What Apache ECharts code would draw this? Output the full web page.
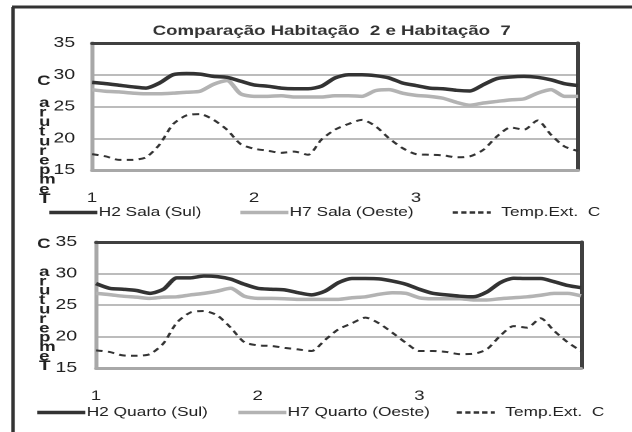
<!DOCTYPE html>
<html>
<head>
<meta charset="utf-8">
<script src="https://cdn.jsdelivr.net/npm/echarts@6/dist/echarts.min.js"></script>
<style>
html,body{margin:0;padding:0;background:#fff;overflow:hidden;}
#wrap{width:632px;height:432px;overflow:hidden;}
/* the reference picture is horizontally stretched; reproduce that by stretching the chart */
#c{width:475.19px;height:432px;transform:scaleX(1.33);transform-origin:0 0;}
</style>
</head>
<body>
<div id="wrap"><div id="c"></div></div>
<script>
const title = 'Comparação Habitação  2 e Habitação  7';
const dayLabels = ['1', '2', '3'];
const pointsPerDay = 12;
const yTicks = [15, 20, 25, 30, 35];
const yTitleTop = 'C';
const yTitleRest = 'aruturepmeT';

const h2Sala = [28.8, 28.6, 28.35, 28.1, 27.9, 28.7, 30.0, 30.2, 30.1, 29.75, 29.6, 29.0, 28.4, 28.2, 27.9, 27.8, 27.8, 28.2, 29.5, 30.0, 30.0, 29.85, 29.5, 28.7, 28.3, 27.9, 27.8, 27.55, 27.45, 28.45, 29.4, 29.65, 29.75, 29.6, 29.2, 28.6, 28.3];
const h7Sala = [27.65, 27.4, 27.3, 27.1, 27.0, 27.0, 27.1, 27.25, 27.4, 28.5, 29.1, 27.0, 26.6, 26.6, 26.7, 26.5, 26.5, 26.5, 26.7, 26.7, 26.6, 27.5, 27.65, 27.1, 26.75, 26.6, 26.3, 25.65, 25.2, 25.55, 25.8, 26.05, 26.2, 27.1, 27.65, 26.6, 26.6];
const tempExtTop = [17.5, 17.15, 16.6, 16.6, 17.0, 19.0, 22.2, 23.6, 23.8, 22.9, 21.35, 19.1, 18.35, 18.05, 17.7, 17.9, 17.4, 19.8, 21.35, 22.25, 22.9, 21.9, 20.0, 18.45, 17.5, 17.4, 17.3, 17.0, 17.15, 18.2, 20.3, 21.7, 21.35, 22.8, 20.55, 18.7, 18.0];

const h2Quarto = [28.4, 27.65, 27.5, 27.3, 26.85, 27.5, 29.3, 29.3, 29.6, 29.5, 29.1, 28.3, 27.65, 27.5, 27.4, 26.95, 26.6, 27.2, 28.55, 29.2, 29.2, 29.15, 28.8, 28.3, 27.5, 26.85, 26.6, 26.4, 26.3, 27.05, 28.55, 29.25, 29.2, 29.2, 28.7, 28.1, 27.75];
const h7Quarto = [26.85, 26.65, 26.4, 26.25, 26.05, 26.25, 26.3, 26.6, 26.85, 27.2, 27.65, 26.4, 26.05, 26.05, 26.0, 25.9, 25.9, 25.9, 25.9, 26.15, 26.3, 26.7, 26.95, 26.85, 26.15, 26.0, 26.0, 26.0, 25.8, 25.8, 26.0, 26.15, 26.3, 26.55, 26.85, 26.85, 26.45];
const tempExtBottom = [17.8, 17.55, 17.0, 16.95, 17.2, 18.9, 22.2, 23.8, 24.05, 23.35, 21.4, 19.1, 18.6, 18.5, 18.2, 17.95, 17.7, 19.45, 21.15, 22.1, 23.0, 22.1, 20.6, 19.0, 17.7, 17.7, 17.55, 17.2, 17.25, 17.95, 20.1, 21.65, 21.4, 22.9, 20.9, 19.1, 17.7];

const names = {
  h2Sala: 'H2 Sala (Sul)', h7Sala: 'H7 Sala (Oeste)',
  h2Quarto: 'H2 Quarto (Sul)', h7Quarto: 'H7 Quarto (Oeste)',
  temp: 'Temp.Ext.  C'
};

const categories = h2Sala.map((_, i) =>
  (i % pointsPerDay === 0 && i / pointsPerDay < dayLabels.length) ? dayLabels[i / pointsPerDay] : '');

const S = 1.33; // horizontal stretch of the page
const X = v => v / S;
const FONT = 'Liberation Sans, Arial, sans-serif';
const DARK = '#333333';
const GRAY = '#b3b3b3';

const grids = [
  {left: X(92), top: 43, width: X(486), height: 127},
  {left: X(96), top: 242, width: X(485), height: 126}
];

function xAxes(gi) {
  return [
    {type: 'category', gridIndex: gi, data: categories, boundaryGap: false,
     axisLine: {show: true, lineStyle: {color: '#a8a8a8', width: 3}},
     axisTick: {show: false},
     axisLabel: {interval: 0, margin: 21, color: '#222', fontFamily: FONT, fontSize: 14},
     splitLine: {show: false}},
    {type: 'category', gridIndex: gi, data: categories, boundaryGap: false, position: 'top',
     axisLine: {show: true, lineStyle: {color: '#404040', width: 3}},
     axisTick: {show: false}, axisLabel: {show: false}, splitLine: {show: false}}
  ];
}
function yAxes(gi) {
  return [
    {type: 'value', gridIndex: gi, min: yTicks[0], max: yTicks[yTicks.length - 1], interval: 5,
     axisLine: {show: true, lineStyle: {color: '#a8a8a8', width: 3}},
     axisTick: {show: false},
     axisLabel: {margin: X(gi ? 19 : 17), color: '#222', fontFamily: FONT, fontSize: 14.5},
     splitLine: {show: true, lineStyle: {color: '#bcbcbc', width: 2}}},
    {type: 'value', gridIndex: gi, min: yTicks[0], max: yTicks[yTicks.length - 1], interval: 5, position: 'right',
     axisLine: {show: true, lineStyle: {color: '#404040', width: 3}},
     axisTick: {show: false}, axisLabel: {show: false}, splitLine: {show: false}}
  ];
}

function lineSeries(name, data, gi, color, width, type) {
  return {
    type: 'line', name: name, data: data,
    xAxisIndex: gi * 2, yAxisIndex: gi * 2,
    showSymbol: false, symbol: 'none', smooth: 0.25,
    lineStyle: {color: color, width: width, type: type},
    itemStyle: {color: color},
    animation: false
  };
}

function legend(name, left, top, kind) {
  const dashed = kind === 'dash';
  return {
    data: [name], left: X(left), top: top, itemWidth: X(dashed ? 38 : 48), itemHeight: 10, itemGap: 0,
    padding: 0,
    itemStyle: {color: 'transparent', borderWidth: 0, opacity: 0},
    lineStyle: {width: dashed ? 2.5 : 3.5, color: kind === 'gray' ? GRAY : DARK, type: dashed ? [4, 2.4] : 'solid'},
    textStyle: {color: '#222', fontFamily: FONT, fontSize: 13, padding: [0, 0, 0, dashed ? 3 : -4]},
    selectedMode: false
  };
}

function stackText(left, top, str, lh) {
  return {type: 'text', left: X(left), top: top,
    style: {text: str.split('').join('\n'), font: 'bold 14px ' + FONT, fill: '#222', lineHeight: lh, align: 'center'}};
}

const option = {
  backgroundColor: '#fff',
  animation: false,
  title: {text: title, left: X(146), top: 19,
    textStyle: {fontFamily: FONT, fontSize: 14, fontWeight: 'bold', color: '#333'}},
  grid: grids,
  xAxis: [...xAxes(0), ...xAxes(1)],
  yAxis: [...yAxes(0), ...yAxes(1)],
  legend: [
    legend(names.h2Sala, 47, 206, 'dark'),
    legend(names.h7Sala, 238, 206, 'gray'),
    legend(names.temp, 451, 206, 'dash'),
    legend(names.h2Quarto, 35, 406, 'dark'),
    legend(names.h7Quarto, 236, 406, 'gray'),
    legend(names.temp, 455, 406, 'dash')
  ],
  series: [
    lineSeries(names.h7Sala, h7Sala, 0, GRAY, 3.5, 'solid'),
    lineSeries(names.h2Sala, h2Sala, 0, DARK, 3.5, 'solid'),
    lineSeries(names.temp, tempExtTop, 0, DARK, 2, [5, 4]),
    lineSeries(names.h7Quarto, h7Quarto, 1, GRAY, 3.5, 'solid'),
    lineSeries(names.h2Quarto, h2Quarto, 1, DARK, 3.5, 'solid'),
    lineSeries(names.temp, tempExtBottom, 1, DARK, 2, [5, 4])
  ],
  graphic: [
    {type: 'line', shape: {x1: X(13), y1: 7, x2: X(13), y2: 432}, style: {stroke: '#333', lineWidth: 2.5}},
    {type: 'line', shape: {x1: X(12), y1: 7, x2: X(632), y2: 7}, style: {stroke: '#333', lineWidth: 3}},
    stackText(37, 74, yTitleTop, 12),
    stackText(39, 96, yTitleRest, 9.6),
    stackText(37, 237, yTitleTop, 12),
    stackText(39, 265, yTitleRest, 9.4)
  ]
};

const chart = echarts.init(document.getElementById('c'), null, {renderer: 'canvas', devicePixelRatio: 2});
chart.setOption(option);
</script>
</body>
</html>
